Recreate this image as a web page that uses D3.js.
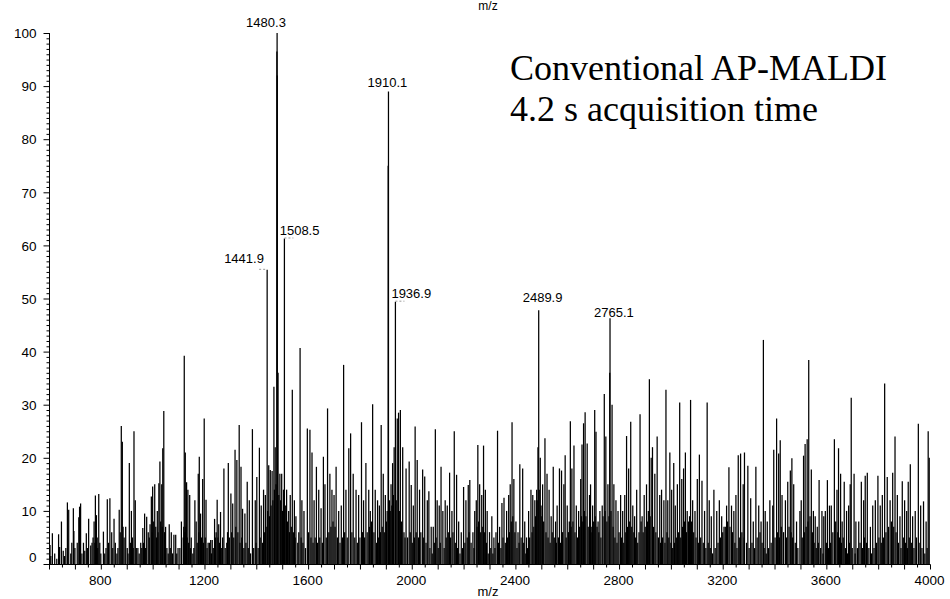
<!DOCTYPE html>
<html><head><meta charset="utf-8">
<script src="https://cdn.jsdelivr.net/npm/d3@7"></script>
<style>body{margin:0;background:#fff;}svg{display:block;}</style>
</head><body>
<script>
// ---- data (m/z, relative intensity %) ----
const peaks = [
[604,3.6],[613,5.8],[637,5.6],[641,3.2],[648,8.0],[660,1.5],[671,11.6],[676,10.2],[694,10.5],[696,6.2],[709,4],[715,8.8],[718,10.8],[722,11.4],[744,5.8],[753,8.5],[761,3.5],[774,8],[779,12.9],[783,9.2],[792,13.2],[810,6.1],[820,3],[825,12.2],[835,12.4],[842,6],[851,8.5],[856,4],[871,10.2],[879,26.0],[883,23],[896,7],[910,19],[918,10],[928,25],[933,12],[943,3],[954,4],[962,6.8],[969,9.5],[977,8.9],[983,6],[990,7.5],[995,12.7],[1000,14.6],[1008,15],[1018,10],[1024,15.2],[1028,19.3],[1035,15],[1039,21.8],[1043,28.8],[1050,7],[1064,7.5],[1072,6],[1082,5.5],[1089,5.5],[1098,3],[1111,8],[1122,39.2],[1126,21],[1131,15.4],[1136,14],[1143,13],[1149,5],[1163,12],[1168,8],[1176,17],[1180,20.2],[1185,9.5],[1193,16],[1199,27.4],[1206,12.1],[1214,4],[1224,4.5],[1230,4.5],[1239,8.5],[1249,12.1],[1255,7.5],[1262,9.8],[1275,18],[1286,4],[1292,19],
[1302,13.3],[1309,11.4],[1318,21.5],[1325,19.6],[1334,26.2],[1341,18.3],[1347,10.4],[1356,9.5],[1365,15.5],[1373,12],[1385,25.4],[1396,12],[1402,16.4],[1412,21.9],[1419,11],[1428,14],[1435,13],[1441.9,55.4],[1448,18.6],[1454,17.7],[1461,17.5],[1468,33.4],[1473,22],[1479.5,96.5],[1480.3,100],[1481,92],[1484,36],[1491,17],[1498,17],[1508.5,61.3],[1517,14],[1525,10],[1531,13],[1539,32.8],[1547,12],[1553,9],[1569,40.7],[1576,12],[1584,10],[1597,25.5],[1607,25.3],[1615,21],[1623,12],[1632,18.3],[1641,14],[1650,10.5],[1659,20.2],[1665,15],[1675,29.3],[1684,17],[1692,14],[1700,13],[1708,18.3],[1718,10],[1728,11],[1737,37.5],[1746,14],[1757,21.8],[1764,24.6],[1774,17],[1785,14],[1795,13],[1806,26.7],[1814,12],[1823,19],[1834,14],[1840,10],[1849,30.1],[1859,14],[1868,12],[1875,11],[1882,26.2],[1890,17],[1898,13],[1909,75],[1910.1,89],[1920,15],[1926,19],[1932,22],[1936.9,49.4],[1944,27.4],[1949,28.5],[1956,29],[1965,22],[1978,18],
[1990,19.3],[1998,14.9],[2006,11],[2013,25.9],[2021,19.6],[2030,14],[2042,17.8],[2050,16.5],[2060,12],[2066,13.7],[2075,7],[2083,7],[2091,25.4],[2098,12],[2106,11],[2113,18.3],[2120,10],[2129,12],[2137,11],[2146,17.2],[2155,10],[2164,25],[2173,16.8],[2181,8],[2191,6],[2200,14.5],[2209,12],[2218,14.9],[2224,15.8],[2236,6],[2243,10],[2249,12],[2255,22.4],[2262,15],[2270,13],[2277,22.3],[2284,14],[2291,10],[2300,6],[2309,9],[2317,5],[2325,6],[2331,25.1],[2339,7],[2348,11.5],[2356,12.5],[2366,10],[2374,13],[2380,15],[2387,26.7],[2394,16],[2402,8],[2410,6],[2417,18.8],[2428,18],[2436,8],[2443,5],[2451,10],[2460,14],[2467,13],[2475,12],[2482,14],[2487,22],[2489.9,47.8],[2496,20],[2505,15],[2514,23.7],[2522,17],[2530,14],[2538,9],[2546,18.3],[2555,8],[2561,11],[2570,18],[2578,17.6],[2587,15],[2592,20.5],[2600,11],[2612,26.9],[2618,18],[2626,22.3],[2635,11],[2644,10],[2652,16],[2657,22.5],[2663,26.5],[2669,28.6],[2677,22.7],[2686,13],[2695,7],
[2690,15],[2698,11],[2706,29],[2711,24.9],[2719,8],[2726,10],[2735,11],[2743,32],[2749,24],[2757,15],[2764,36],[2765.1,46.3],[2773,30],[2780,15],[2788,12],[2796,10],[2806,13],[2814,10],[2822,13],[2829,24.1],[2837,18],[2845,26.8],[2853,11],[2860,9],[2868,14],[2881,28.2],[2889,9],[2897,13],[2906,15],[2917,34.8],[2924,20],[2929,22],[2938,17],[2947,24],[2957,13],[2964,14],[2973,12],[2981,32.8],[2988,12],[2996,21],[3003,14],[3011,19],[3017,11],[3025,15],[3034,30.4],[3042,16],[3049,18],[3056,21],[3063,10],[3076,30.9],[3084,12],[3093,10],[3102,16],[3110,20.6],[3120,15.7],[3130,10],[3140,30.4],[3148,12],[3156,9],[3166,14],[3177,10],[3187,12],[3196,9],[3205,7],[3215,11],[3224,18.2],[3234,11],[3243,10],[3251,13],[3260,20.5],[3269,20.8],[3279,15],[3284,21],[3297,18.5],[3308,12.4],[3318,8],[3328,18.3],[3339,11],[3348,8],[3357,42.2],[3364,10],[3372,8],[3382,12],[3393,11],
[3397,21.5],[3408,27.4],[3416,20.8],[3422,23.3],[3429,13],[3442,12],[3451,15.5],[3461,17.6],[3467,19.9],[3474,15],[3485,8],[3498,10],[3503,12],[3512,20.4],[3518,22.6],[3526,23.5],[3532,38.4],[3542,17.8],[3550,10],[3557,9],[3565,7],[3572,15.8],[3583,10],[3590,9],[3596,10],[3604,15.8],[3612,11],[3619,11],[3631,23.5],[3641,14],[3647,21.8],[3655,17],[3661,8],[3669,15.5],[3678,10],[3686,11],[3692,15],[3696,31.3],[3707,17],[3714,8],[3725,8],[3735,15.5],[3744,12],[3750,16.6],[3758,17.2],[3770,7],[3779,11],[3789,12],[3799,16.6],[3808,11],[3816,13],[3825,34],[3835,16.4],[3846,12],[3856,17.2],[3865,24],[3874,13],[3884,9],[3893,15.6],[3902,12],[3910,10],[3916,15.5],[3924,18.8],[3933,9],[3943,10],[3955,26.4],[3964,11],[3975,11.8],[3985,8],[3993,25],[3997,20]
];
const basePeaks = [
[607,1.5],[622,2],[630,1],[655,2.5],[665,3],[684,2],[688,4],[700,3],[727,2],[733,4],[738,2.5],[748,3],[766,4],[770,5],[777,4],[786,5],[788,3],[796,4],[800,2],[815,2],[830,4],[846,3],[862,2],[866,3],[875,6],[886,7],[890,5],[902,3],[905,2],[914,4],[922,5],[925,3],[937,3],[948,2],[958,3],[965,4],[973,3],[987,5],[998,6],[1004,8],[1012,7],[1015,5],[1021,6],[1031,8],[1037,7],[1046,6],[1055,3],[1060,2],[1068,3],[1077,2],[1093,2],[1105,3],[1118,5],[1120,7],[1124,6],[1128,7],[1133,5],[1139,4],[1146,3],[1155,2],[1159,3],[1172,4],[1178,6],[1189,5],[1196,4],[1203,5],[1210,3],[1219,4],[1227,2],[1234,3],[1242,5],[1245,6],[1252,5],[1258,4],[1265,3],[1270,5],[1280,3],[1289,6],[1296,5],[1305,6],[1313,5],[1321,7],[1329,6],[1337,4],[1344,5],[1352,3],[1360,4],[1369,3],[1378,2],[1390,3],[1399,4],[1407,3],[1415,5],[1424,4],[1431,6],[1438,7],[1444,10],[1451,9],[1457,11],[1464,12],[1470,14],[1476,15],[1487,13],[1494,12],[1501,10],[1505,14],[1512,11],[1520,8],[1528,6],[1535,7],[1543,6],[1550,5],[1560,4],[1564,6],[1573,5],[1580,4],[1590,3],[1602,6],[1611,5],[1619,4],[1627,5],[1636,4],[1645,5],[1655,4],[1670,5],[1680,6],[1688,7],[1696,8],[1704,7],[1713,5],[1723,4],[1733,5],[1741,6],[1751,5],[1769,6],[1780,5],[1790,4],[1800,5],[1810,6],[1818,5],[1828,6],[1837,7],[1845,8],[1854,6],[1864,4],[1871,5],[1879,6],[1886,7],[1894,6],[1902,8],[1905,10],[1914,12],[1917,10],[1923,11],[1929,13],[1940,12],[1952,10],[1960,8],[1970,6],[1974,5],[1984,5],[1994,6],[2002,4],[2010,5],[2017,6],[2026,5],[2035,6],[2046,5],[2055,4],[2070,3],[2079,2],[2087,4],[2094,5],[2102,3],[2110,4],[2125,3],[2133,5],[2141,6],[2150,5],[2159,6],[2168,4],[2177,3],[2186,2],[2196,3],[2205,4],[2214,5],[2221,6],[2229,4],[2240,3],[2252,7],[2258,8],[2266,6],[2274,7],[2280,6],[2288,4],[2295,2],[2305,3],[2313,2],[2321,3],[2335,4],[2344,3],[2352,5],[2361,4],[2370,5],[2377,6],[2384,8],[2390,9],[2398,6],[2406,3],[2414,4],[2422,5],[2432,4],[2440,2],[2447,3],[2455,5],[2464,6],[2471,7],[2478,9],[2484,12],[2492,14],[2499,11],[2502,9],[2509,8],[2518,6],[2526,5],[2534,4],[2542,6],[2550,5],[2558,4],[2566,5],[2574,4],[2582,6],[2596,5],[2605,6],[2608,8],[2615,7],[2622,8],[2630,6],[2640,5],[2648,7],[2655,9],[2660,8],[2666,10],[2672,9],[2681,7],[2692,6],[2702,8],[2708,9],[2715,7],[2722,6],[2730,5],[2738,9],[2746,10],[2753,8],[2761,9],[2769,10],[2777,7],[2784,5],[2792,4],[2800,6],[2810,5],[2818,4],[2826,6],[2833,7],[2841,8],[2849,7],[2857,6],[2864,5],[2872,4],[2877,6],[2885,8],[2893,6],[2901,7],[2910,8],[2913,10],[2920,9],[2933,7],[2942,6],[2952,5],[2960,4],[2968,5],[2977,4],[2985,6],[2992,5],[3000,4],[3007,3],[3014,4],[3021,5],[3030,6],[3038,5],[3045,7],[3053,8],[3060,6],[3068,8],[3072,9],[3080,8],[3088,6],[3097,5],[3106,4],[3115,5],[3125,4],[3135,3],[3144,4],[3152,3],[3161,2],[3171,3],[3182,4],[3191,5],[3200,6],[3210,7],[3219,8],[3228,7],[3238,6],[3247,4],[3255,3],[3264,5],[3274,6],[3283,5],[3292,4],[3302,3],[3313,4],[3323,3],[3333,5],[3344,6],[3352,4],[3360,3],[3368,2],[3377,3],[3387,4],[3402,5],[3412,6],[3419,5],[3426,7],[3435,6],[3446,5],[3456,7],[3464,6],[3470,5],[3480,4],[3490,3],[3507,5],[3515,6],[3522,7],[3529,8],[3537,9],[3546,6],[3553,4],[3561,3],[3569,4],[3578,3],[3587,2],[3600,4],[3608,3],[3616,4],[3625,6],[3636,8],[3644,6],[3651,5],[3658,4],[3665,5],[3674,3],[3682,2],[3689,4],[3700,3],[3711,2],[3720,3],[3730,4],[3740,3],[3747,5],[3755,4],[3764,3],[3774,2],[3784,3],[3794,4],[3803,5],[3812,4],[3820,5],[3830,6],[3840,7],[3851,8],[3860,7],[3869,6],[3878,4],[3888,3],[3897,5],[3906,4],[3913,3],[3920,5],[3928,4],[3938,3],[3948,5],[3958,4],[3969,3],[3980,2],[3989,3]
];
const labeledPeaks = [
  {mz:1480.3, intensity:100,  text:"1480.3"},
  {mz:1441.9, intensity:55.4, text:"1441.9"},
  {mz:1508.5, intensity:61.3, text:"1508.5"},
  {mz:1910.1, intensity:89,   text:"1910.1"},
  {mz:1936.9, intensity:49.4, text:"1936.9"},
  {mz:2489.9, intensity:47.8, text:"2489.9"},
  {mz:2765.1, intensity:46.3, text:"2765.1"}
];
const yMajorTicks = [0,10,20,30,40,50,60,70,80,90,100];
const xLabelTicks = [800,1200,1600,2000,2400,2800,3200,3600,4000];
const xAxisTitle = "m/z";
const annotationLines = ["Conventional AP-MALDI", "4.2 s acquisition time"];

// ---- layout ----
const W = 950, H = 599;
const x = d3.scaleLinear().domain([600, 4000]).range([49, 930]);
const y = d3.scaleLinear().domain([0, 100]).range([564, 33]);
const font = "'Liberation Sans', Arial, sans-serif";

const svg = d3.select("body").append("svg").attr("width", W).attr("height", H);

// spectrum lines
const all = basePeaks.concat(peaks);
svg.append("g").selectAll("line").data(all).join("line")
  .attr("x1", d => x(d[0])).attr("x2", d => x(d[0]))
  .attr("y1", y(0)).attr("y2", d => y(d[1]))
  .attr("stroke", "#000").attr("stroke-width", 1.25);

// y axis
const yAxis = d3.axisLeft(y).tickValues(d3.range(0, 101, 1))
  .tickSize(3).tickFormat(d => yMajorTicks.includes(d) ? d : "");
const gy = svg.append("g").attr("transform", "translate(49.5,0)").call(yAxis);
gy.select(".domain").attr("d", `M0,${y(100)}V${y(0)+0.5}`).attr("stroke", "#000");
gy.selectAll(".tick line").attr("x2", d => yMajorTicks.includes(d) ? -6 : -3).attr("stroke", "#000");
gy.selectAll(".tick text").attr("x", -13).attr("font-family", font).attr("font-size", 13.5)
  .attr("fill", "#000").attr("dy", d => d === 0 ? "-0.15em" : "0.35em");

// x axis
const xAxis = d3.axisBottom(x).tickValues(d3.range(600, 4001, 50))
  .tickSize(4).tickFormat(d => xLabelTicks.includes(d) ? d : "");
const gx = svg.append("g").attr("transform", "translate(0,564.5)").call(xAxis);
gx.select(".domain").attr("d", `M${x(600)},0H${x(4000)+0.5}`).attr("stroke", "#000");
gx.selectAll(".tick line").attr("y2", d => d % 100 === 0 ? 5 : 3).attr("stroke", "#000");
gx.selectAll(".tick text").attr("y", 20.5).attr("dy", 0).attr("dx", -1)
  .attr("font-family", font).attr("font-size", 13.5).attr("fill", "#000");

// axis titles
svg.append("text").attr("x", 488).attr("y", 596).attr("text-anchor", "middle")
  .attr("font-family", font).attr("font-size", 13).text(xAxisTitle);
svg.append("text").attr("x", 488).attr("y", 10).attr("text-anchor", "middle")
  .attr("font-family", font).attr("font-size", 12).text(xAxisTitle);

// peak labels
const labelDx = [-31, -43, -4.7, -21, -4, -16, -16];
const labelDy = [-6, -6.8, -3.5, -4.4, -3.7, -8, -1.5];
svg.append("g").selectAll("text").data(labeledPeaks).join("text")
  .attr("x", (d, i) => x(d.mz) + labelDx[i])
  .attr("y", (d, i) => y(d.intensity) + labelDy[i])
  .attr("font-family", font).attr("font-size", 13).attr("fill", "#000")
  .text(d => d.text);
// small dotted markers under some labels
const markerSide = [0, -1, 1, 0, 1, 0, 0];
svg.append("g").selectAll("line").data(labeledPeaks.filter((d, i) => markerSide[i] !== 0)).join("line")
  .attr("x1", d => { const i = labeledPeaks.indexOf(d); return markerSide[i] < 0 ? x(d.mz) - 8 : x(d.mz); })
  .attr("x2", d => { const i = labeledPeaks.indexOf(d); return markerSide[i] < 0 ? x(d.mz) : x(d.mz) + 9; })
  .attr("y1", d => y(d.intensity) - 0.5).attr("y2", d => y(d.intensity) - 0.5)
  .attr("stroke", "#999").attr("stroke-width", 1).attr("stroke-dasharray", "2,2");

// annotation
svg.append("g").selectAll("text").data(annotationLines).join("text")
  .attr("x", 510).attr("y", (d, i) => 80 + i * 41)
  .attr("font-family", "'Liberation Serif', 'Times New Roman', serif")
  .attr("font-size", 36).attr("fill", "#000").text(d => d);
</script>
</body></html>
